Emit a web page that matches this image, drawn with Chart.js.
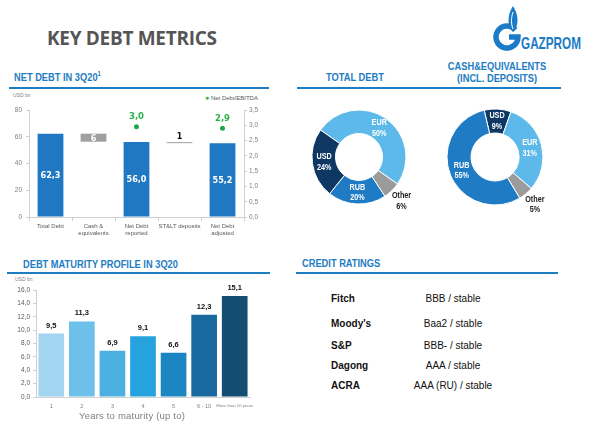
<!DOCTYPE html>
<html><head><meta charset="utf-8">
<script src="https://cdn.jsdelivr.net/npm/chart.js@4"></script>
<style>
html,body{margin:0;padding:0;background:#fff;}
body{width:590px;height:428px;position:relative;overflow:hidden;font-family:'Liberation Sans',Arial,sans-serif;}
.abs{position:absolute;white-space:nowrap;}
.h{color:#1E7CC2;font-family:'Liberation Sans',Arial,sans-serif;font-weight:bold;font-size:10.8px;transform:scaleX(0.86);transform-origin:0 0;}
.hc{transform-origin:50% 0;}
.rule{position:absolute;height:2px;background:#1E7CC2;}
.small{font-size:5px;color:#7f7f7f;}
canvas{position:absolute;}
</style></head>
<body>
<div class="abs" style="left:47px;top:25px;font-family:'Open Sans',sans-serif;font-weight:bold;font-size:19px;color:#555;letter-spacing:-0.3px;">KEY DEBT METRICS</div>
<svg style="position:absolute;left:488px;top:4px" width="102" height="50" viewBox="0 0 102 50">
 <path d="M27.4 25.9 A11 11 0 1 0 30 33 L21 33" fill="none" stroke="#1B7BC7" stroke-width="5.5"/>
 <path d="M25 2 C19 11 19 22 25 28 C31 22 31 11 25 2 Z" fill="#1B7BC7"/>
 <path d="M25 8 C23 14 23 20 25 25" fill="none" stroke="#fff" stroke-width="1"/>
 <text x="33" y="44.5" font-family="'Liberation Sans',Arial" font-weight="bold" font-size="17" fill="#1B7BC7" textLength="60" lengthAdjust="spacingAndGlyphs">GAZPROM</text>
</svg>

<div class="abs h" style="left:14px;top:70px;">NET DEBT IN 3Q20<sup style="font-size:7px;">1</sup></div>
<div class="rule" style="left:9px;top:87px;width:260px;"></div>
<div class="abs small" style="left:13px;top:92px;">USD bn</div>
<div class="abs" style="left:205px;top:94px;font-size:6px;color:#595959;"><span style="color:#2BB24C;font-size:7px;">●</span> Net Debt/EBITDA</div>
<canvas id="c1" width="270" height="160" style="left:0;top:88px;"></canvas>

<div class="abs h hc" style="left:305px;width:100px;text-align:center;top:71px;">TOTAL DEBT</div>
<div class="abs h hc" style="left:437px;top:61px;width:120px;text-align:center;line-height:11.5px;">CASH&amp;EQUIVALENTS<br>(INCL. DEPOSITS)</div>
<div class="rule" style="left:297px;top:87px;width:264px;"></div>
<canvas id="c2" width="130" height="130" style="left:294px;top:92px;"></canvas>
<canvas id="c3" width="130" height="130" style="left:430px;top:92px;"></canvas>

<div class="abs h" style="left:23px;top:258px;">DEBT MATURITY PROFILE IN 3Q20</div>
<div class="rule" style="left:7px;top:272px;width:263px;"></div>
<div class="abs small" style="left:15px;top:276px;">USD bn</div>
<canvas id="c4" width="270" height="152" style="left:0;top:276px;"></canvas>
<div class="abs" style="left:79px;top:410px;font-size:9.5px;color:#7f7f7f;letter-spacing:0.2px;">Years to maturity (up to)</div>

<div class="abs h" style="left:302px;top:257px;">CREDIT RATINGS</div>
<div class="rule" style="left:296px;top:272px;width:262px;"></div>
<div id="ratings"></div>

<script>
// ---- data ----
const ndCategories = [['Total Debt'], ['Cash &', 'equivalents'], ['Net Debt', 'reported'], ['ST&LT deposits'], ['Net Debt', 'adjusted']];
const ndBarFrom = [0, 56.3, 0, 55.2, 0];
const ndBarTo = [62.3, 62.3, 56.0, 56.0, 55.2];
const ndBarLabels = ['62,3', '6', '56,0', '1', '55,2'];
const ndEbitda = [null, null, 2.95, null, 2.9];
const ndEbitdaLabels = [null, null, '3,0', null, '2,9'];

const debtCurrencies = ['EUR', 'Other', 'RUB', 'USD'];
const debtShares = [50, 6, 20, 24];
const cashCurrencies = ['USD', 'EUR', 'Other', 'RUB'];
const cashShares = [9, 31, 5, 55];

const matCategories = ['1', '2', '3', '4', '5', '6 - 10', 'More than 10 years'];
const matValues = [9.5, 11.3, 6.9, 9.1, 6.6, 12.3, 15.1];

const agencies = ['Fitch', "Moody's", 'S&P', 'Dagong', 'ACRA'];
const ratings = ['BBB / stable', 'Baa2 / stable', 'BBB- / stable', 'AAA / stable', 'AAA (RU) / stable'];

// ---- styles ----
Chart.defaults.font.family = "'Liberation Sans', Arial, sans-serif";
const curColors = {EUR: '#5CB9EA', Other: '#9B9B9B', RUB: '#1F7BC4', USD: '#0E3763'};
const matColors = ['#A3D5F0', '#6CC0EA', '#4DB0E3', '#26A2DE', '#1B86C2', '#186A9E', '#134E72'];
const axisCol = '#D0D0D0';
const comma = v => v.toFixed(1).replace('.', ',');
function narrowText(ctx, txt, x, y, sx) {
  ctx.save(); ctx.translate(x, y); ctx.scale(sx, 1); ctx.fillText(txt, 0, 0); ctx.restore();
}

// ---- chart 1: net debt ----
const ndLabelPlugin = {
  id: 'ndLabels',
  afterDatasetsDraw(chart) {
    const ctx = chart.ctx;
    ctx.save();
    ctx.textAlign = 'center'; ctx.textBaseline = 'middle';
    chart.getDatasetMeta(0).data.forEach((b, i) => {
      const top = Math.min(b.y, b.base), bot = Math.max(b.y, b.base);
      if (bot - top > 6) {
        ctx.fillStyle = '#fff'; ctx.font = "bold 9px 'DejaVu Sans', sans-serif";
        narrowText(ctx, ndBarLabels[i], b.x, (top + bot) / 2 + 0.5, 0.9);
      } else {
        ctx.fillStyle = '#111'; ctx.font = "bold 8px 'DejaVu Sans', sans-serif";
        ctx.fillText(ndBarLabels[i], b.x, top - 5);
      }
    });
    chart.getDatasetMeta(1).data.forEach((p, i) => {
      if (!ndEbitdaLabels[i]) return;
      ctx.fillStyle = '#2BB24C'; ctx.font = "bold 9px 'DejaVu Sans', sans-serif";
      narrowText(ctx, ndEbitdaLabels[i], p.x, p.y - 10, 0.95);
    });
    ctx.restore();
  }
};
new Chart(document.getElementById('c1'), {
  type: 'bar',
  data: {
    labels: ndCategories,
    datasets: [{
      data: ndBarFrom.map((f, i) => [f, ndBarTo[i]]),
      backgroundColor: ['#1F78C1', '#A0A0A0', '#1F78C1', '#A6A6A6', '#1F78C1'],
      barPercentage: 0.6, categoryPercentage: 1, yAxisID: 'y', order: 2
    }, {
      type: 'line', data: ndEbitda, yAxisID: 'y1', showLine: false,
      pointRadius: 2.5, pointBackgroundColor: '#1FA84A', pointBorderWidth: 0, order: 1
    }]
  },
  options: {
    responsive: false, animation: false,
    layout: {padding: {top: 22, left: 0, right: 0, bottom: 0}},
    plugins: {legend: {display: false}, tooltip: {enabled: false}},
    scales: {
      x: {
        grid: {offset: true, drawOnChartArea: false, tickLength: 4, color: axisCol},
        border: {color: axisCol},
        ticks: {font: {size: 6}, color: '#595959', padding: 2, maxRotation: 0, autoSkip: false},
        afterFit(s) { s.height = 31; }
      },
      y: {
        position: 'left', min: 0, max: 80,
        grid: {drawOnChartArea: false, tickLength: 3, color: axisCol},
        border: {color: axisCol},
        ticks: {stepSize: 20, font: {size: 6.5}, color: '#7f7f7f', padding: 4},
        afterFit(s) { s.width = 29; }
      },
      y1: {
        position: 'right', min: 0, max: 3.5,
        grid: {drawOnChartArea: false, tickLength: 3, color: axisCol},
        border: {color: axisCol},
        ticks: {stepSize: 0.5, font: {size: 6.5}, color: '#7f7f7f', padding: 2, callback: v => comma(v)},
        afterFit(s) { s.width = 26; }
      }
    }
  },
  plugins: [ndLabelPlugin]
});

// ---- donuts ----
const donutLabelPlugin = {
  id: 'donutLabels',
  afterDatasetsDraw(chart) {
    const ctx = chart.ctx;
    const labels = chart.data.labels;
    const vals = chart.data.datasets[0].data;
    ctx.save();
    ctx.textAlign = 'center'; ctx.textBaseline = 'middle';
    ctx.font = "bold 8.5px 'Liberation Sans', sans-serif";
    chart.getDatasetMeta(0).data.forEach((a, i) => {
      const mid = (a.startAngle + a.endAngle) / 2;
      const outside = labels[i] === 'Other';
      const r = outside ? a.outerRadius + 14 : (a.innerRadius + a.outerRadius) / 2;
      const x = a.x + Math.cos(mid) * r, y = a.y + Math.sin(mid) * r;
      ctx.fillStyle = outside ? '#222' : '#fff';
      narrowText(ctx, labels[i], x, y - 5, 0.85);
      narrowText(ctx, vals[i] + '%', x, y + 5.5, 0.85);
    });
    ctx.restore();
  }
};
function donut(id, labels, values, rotation, radius) {
  new Chart(document.getElementById(id), {
    type: 'doughnut',
    data: {labels: labels, datasets: [{data: values, backgroundColor: labels.map(l => curColors[l]), borderColor: '#fff', borderWidth: 1}]},
    options: {
      responsive: false, animation: false, rotation: rotation, cutout: '50%', radius: radius,
      layout: {padding: 0},
      plugins: {legend: {display: false}, tooltip: {enabled: false}}
    },
    plugins: [donutLabelPlugin]
  });
}
donut('c2', debtCurrencies, debtShares, -55, 47);
donut('c3', cashCurrencies, cashShares, -13, 48);

// ---- chart 4: maturity ----
const matLabelPlugin = {
  id: 'matLabels',
  afterDatasetsDraw(chart) {
    const ctx = chart.ctx;
    ctx.save();
    ctx.textAlign = 'center'; ctx.textBaseline = 'middle';
    ctx.font = "bold 7.5px 'Liberation Sans', sans-serif";
    ctx.fillStyle = '#111';
    chart.getDatasetMeta(0).data.forEach((b, i) => ctx.fillText(comma(matValues[i]), b.x, b.y - 8));
    ctx.restore();
  }
};
new Chart(document.getElementById('c4'), {
  type: 'bar',
  data: {labels: matCategories, datasets: [{data: matValues, backgroundColor: matColors, barPercentage: 0.84, categoryPercentage: 1}]},
  options: {
    responsive: false, animation: false,
    layout: {padding: {top: 14, right: 20, left: 0, bottom: 0}},
    plugins: {legend: {display: false}, tooltip: {enabled: false}},
    scales: {
      x: {
        grid: {display: false, drawTicks: false},
        border: {color: axisCol},
        ticks: {
          font: c => ({size: String(matCategories[c.index] || '').length > 8 ? 4.3 : 5.5}),
          color: '#7f7f7f', padding: 6, maxRotation: 0, autoSkip: false
        },
        afterFit(s) { s.height = 31; }
      },
      y: {
        min: 0, max: 16,
        grid: {drawOnChartArea: false, tickLength: 3, color: axisCol},
        border: {color: axisCol},
        ticks: {stepSize: 2, font: {size: 6.5}, color: '#595959', padding: 3, callback: v => comma(v)},
        afterFit(s) { s.width = 36; }
      }
    }
  },
  plugins: [matLabelPlugin]
});

// ---- ratings ----
const rowY = [300, 325, 347, 367, 387];
const rt = document.getElementById('ratings');
agencies.forEach((a, i) => {
  const n = document.createElement('div');
  n.className = 'abs';
  n.style.cssText = `left:331px;top:${rowY[i] - 7}px;font-size:10px;font-weight:bold;color:#111;`;
  n.textContent = a;
  rt.appendChild(n);
  const v = document.createElement('div');
  v.className = 'abs';
  v.style.cssText = `left:393px;width:120px;text-align:center;top:${rowY[i] - 7}px;font-size:10px;color:#111;`;
  v.textContent = ratings[i];
  rt.appendChild(v);
});
</script>
</body></html>
